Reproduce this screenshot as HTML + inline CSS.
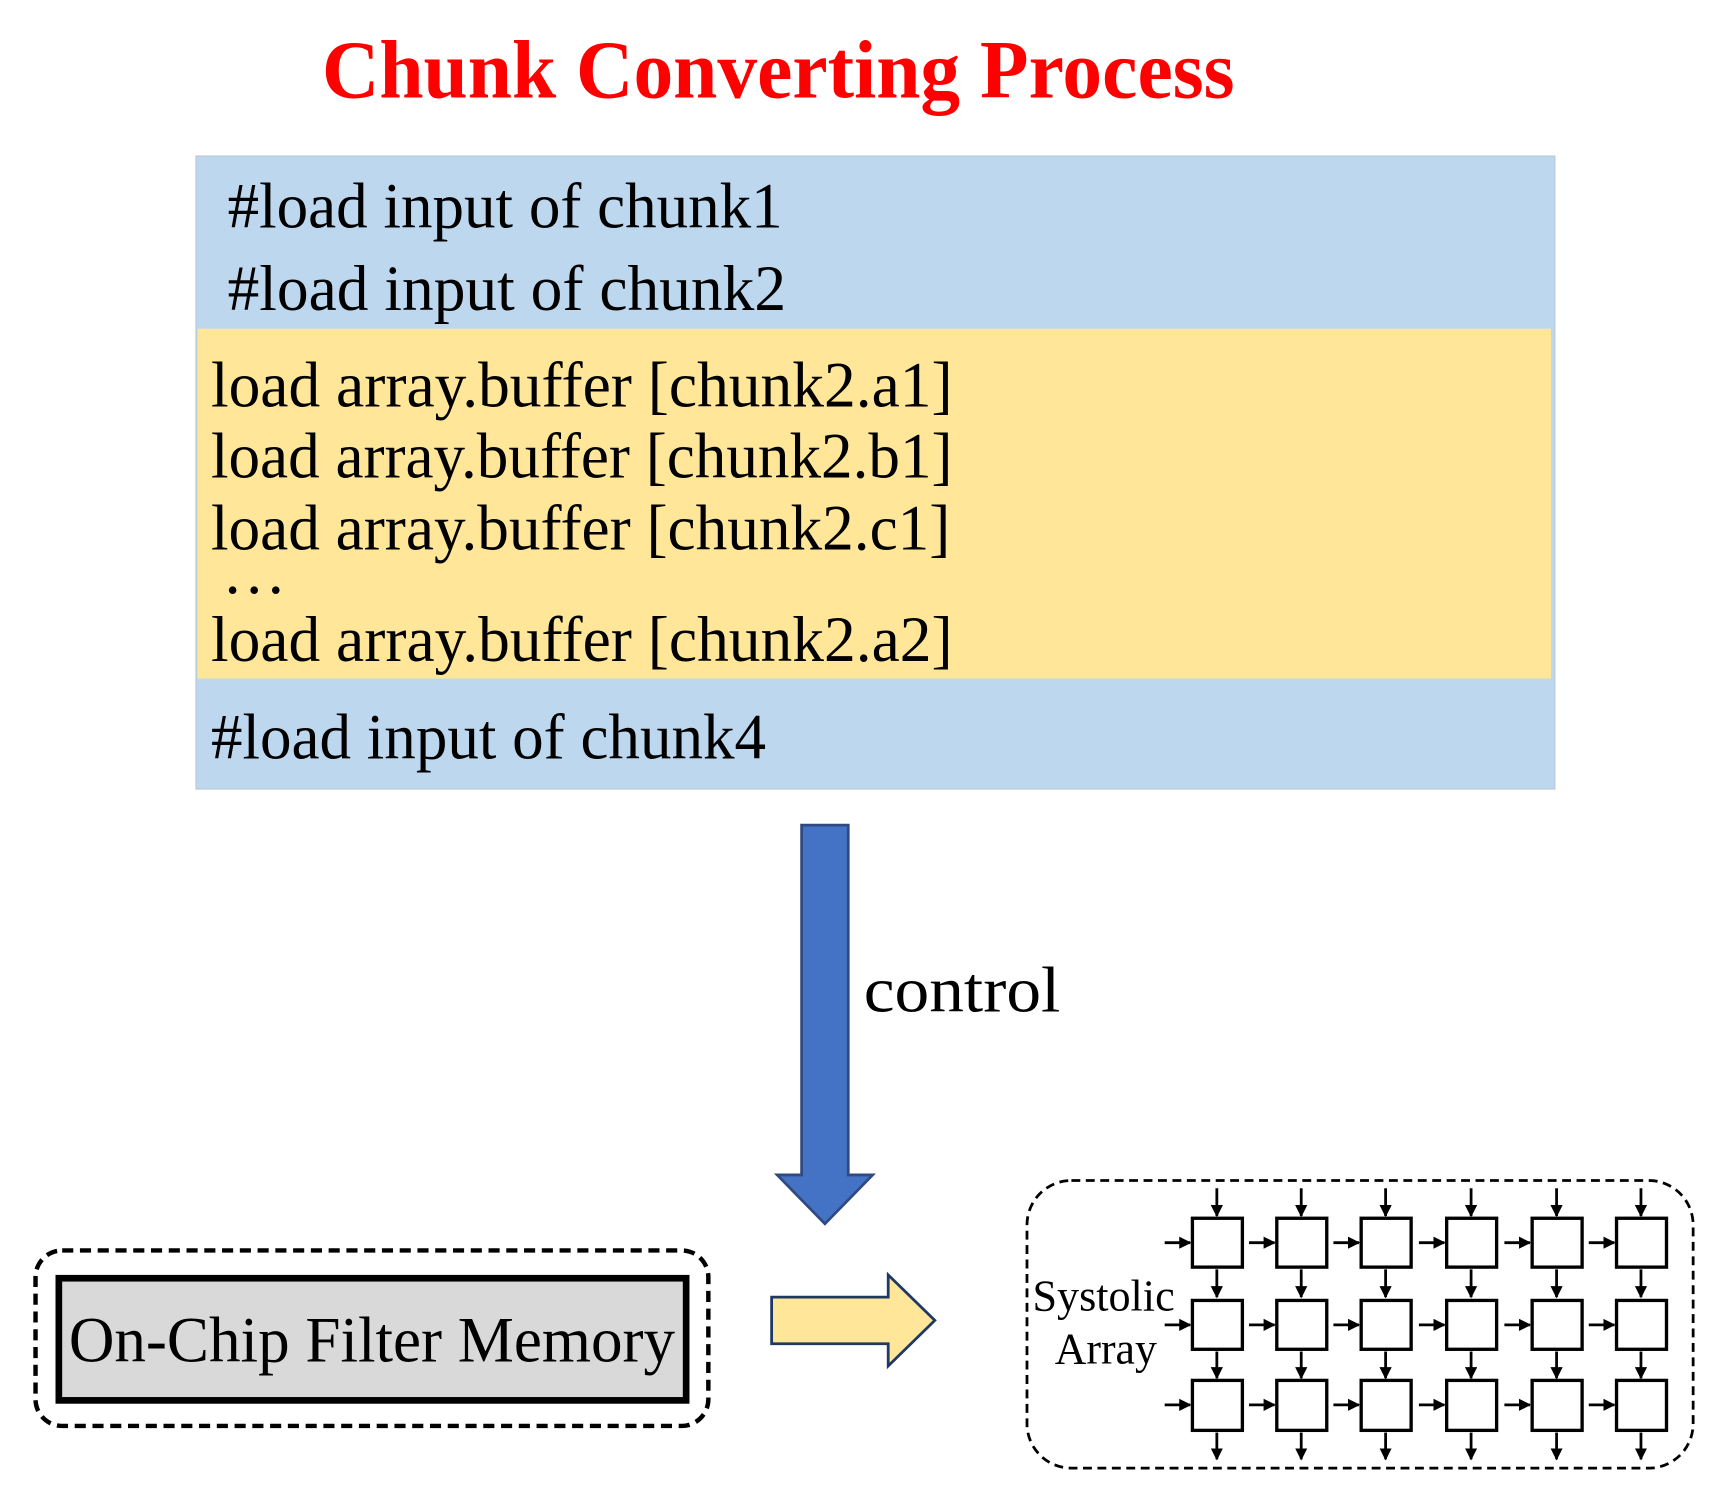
<!DOCTYPE html>
<html><head><meta charset="utf-8"><style>
html,body{margin:0;padding:0;background:#fff;}
svg{display:block;}
</style></head><body>
<svg width="1732" height="1507" viewBox="0 0 1560 1357" preserveAspectRatio="none" xmlns="http://www.w3.org/2000/svg">
<defs>
<marker id="ah" viewBox="0 0 10 10" refX="9" refY="5" markerWidth="11" markerHeight="11" markerUnits="userSpaceOnUse" orient="auto"><path d="M0,0 L10,5 L0,10 z" fill="#000"/></marker>
<g id="col">
  <line x1="22" y1="1070" x2="22" y2="1095" stroke="#000" stroke-width="2.5" marker-end="url(#ah)"/>
  <line x1="-25" y1="1119" x2="-2" y2="1119" stroke="#000" stroke-width="2.5" marker-end="url(#ah)"/>
  <rect x="0" y="1097" width="45" height="44" fill="#fff" stroke="#000" stroke-width="3"/>
  <line x1="22" y1="1143" x2="22" y2="1168" stroke="#000" stroke-width="2.5" marker-end="url(#ah)"/>
  <line x1="-25" y1="1193" x2="-2" y2="1193" stroke="#000" stroke-width="2.5" marker-end="url(#ah)"/>
  <rect x="0" y="1171" width="45" height="44" fill="#fff" stroke="#000" stroke-width="3"/>
  <line x1="22" y1="1217" x2="22" y2="1241" stroke="#000" stroke-width="2.5" marker-end="url(#ah)"/>
  <line x1="-25" y1="1265" x2="-2" y2="1265" stroke="#000" stroke-width="2.5" marker-end="url(#ah)"/>
  <rect x="0" y="1243" width="45" height="45" fill="#fff" stroke="#000" stroke-width="3"/>
  <line x1="22" y1="1290" x2="22" y2="1314" stroke="#000" stroke-width="2.5" marker-end="url(#ah)"/>
</g>
</defs>

<text x="290" y="88" font-family="Liberation Serif, serif" font-weight="bold" font-size="74" fill="#f00" textLength="822" lengthAdjust="spacingAndGlyphs">Chunk Converting Process</text>

<rect x="176.5" y="140.5" width="1224" height="570" fill="#BDD7EE" stroke="#b8c8d8" stroke-width="1"/>
<rect x="178" y="296" width="1219" height="315" fill="#FFE699"/>

<g font-family="Liberation Serif, serif" font-size="58" fill="#000">
<text x="205" y="205" textLength="500" lengthAdjust="spacingAndGlyphs">#load input of chunk1</text>
<text x="205" y="279" textLength="503" lengthAdjust="spacingAndGlyphs">#load input of chunk2</text>
<text x="190" y="366" textLength="668" lengthAdjust="spacingAndGlyphs">load array.buffer  [chunk2.a1]</text>
<text x="190" y="430" textLength="668" lengthAdjust="spacingAndGlyphs">load array.buffer  [chunk2.b1]</text>
<text x="190" y="495" textLength="666" lengthAdjust="spacingAndGlyphs">load array.buffer  [chunk2.c1]</text>
<text x="200" y="534" textLength="58" lengthAdjust="spacingAndGlyphs">…</text>
<text x="190" y="595" textLength="668" lengthAdjust="spacingAndGlyphs">load array.buffer  [chunk2.a2]</text>
<text x="190" y="683" textLength="500" lengthAdjust="spacingAndGlyphs">#load input of chunk4</text>
<text x="778" y="911" textLength="177" lengthAdjust="spacingAndGlyphs">control</text>
</g>

<path d="M722,743 L764,743 L764,1058 L786,1058 L743,1102 L700,1058 L722,1058 Z" fill="#4472C4" stroke="#2F4A80" stroke-width="2.5"/>

<rect x="32" y="1126" width="606" height="158" rx="24" fill="none" stroke="#000" stroke-width="4" stroke-dasharray="10,6"/>
<rect x="53" y="1151" width="565" height="110" fill="#D9D9D9" stroke="#000" stroke-width="6"/>
<text x="62" y="1226" font-family="Liberation Serif, serif" font-size="58" textLength="546" lengthAdjust="spacingAndGlyphs">On-Chip Filter Memory</text>

<path d="M695,1168 L800,1168 L800,1148 L842,1189 L800,1230 L800,1210 L695,1210 Z" fill="#FFE699" stroke="#1F3864" stroke-width="2.5"/>

<rect x="925" y="1063" width="600" height="259" rx="40" fill="none" stroke="#000" stroke-width="2.5" stroke-dasharray="8,5"/>
<g font-family="Liberation Serif, serif" font-size="40">
<text x="930" y="1180" textLength="128" lengthAdjust="spacingAndGlyphs">Systolic</text>
<text x="950" y="1228" textLength="92" lengthAdjust="spacingAndGlyphs">Array</text>
</g>
<use href="#col" x="1074"/>
<use href="#col" x="1150"/>
<use href="#col" x="1226"/>
<use href="#col" x="1303"/>
<use href="#col" x="1380"/>
<use href="#col" x="1456"/>
</svg>
</body></html>
